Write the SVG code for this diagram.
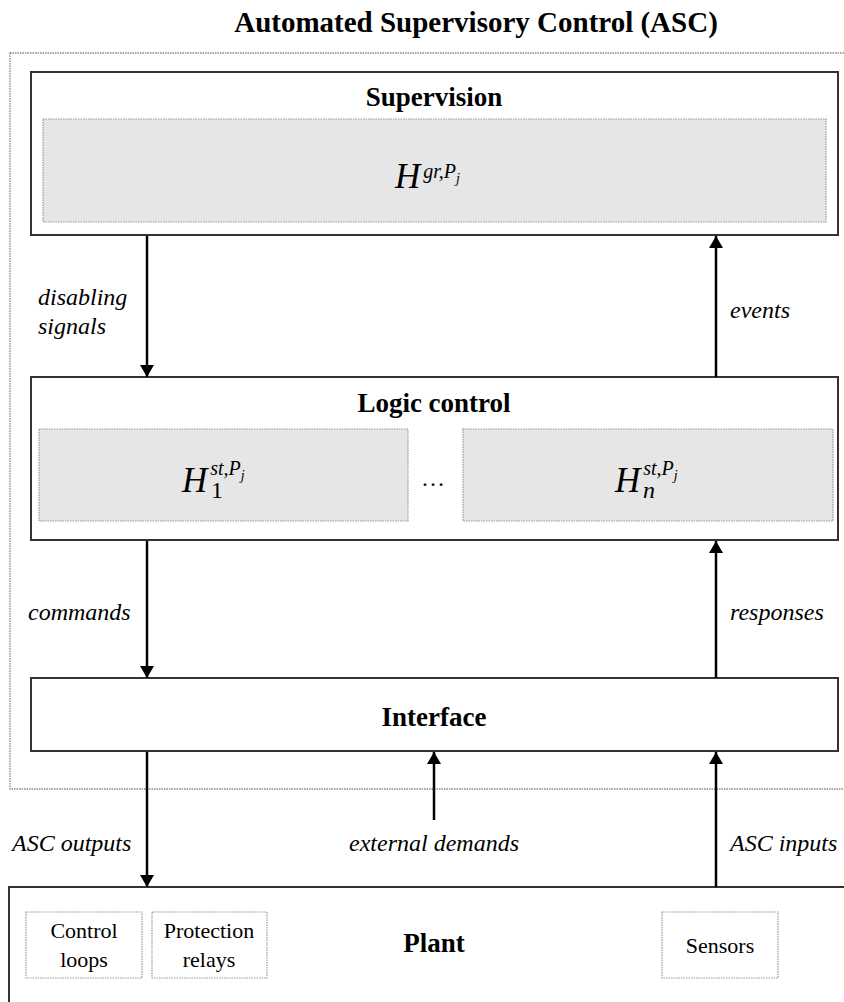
<svg xmlns="http://www.w3.org/2000/svg" width="844" height="1002" viewBox="0 0 844 1002" font-family="Times New Roman, Liberation Serif, serif">
<defs>
<marker id="ah" viewBox="0 0 12 16" refX="12" refY="8" markerWidth="12" markerHeight="16" markerUnits="userSpaceOnUse" orient="auto">
<path d="M0,1 L12,8 L0,15 Z" fill="#000"/>
</marker>
</defs>
<rect width="844" height="1002" fill="#fff"/>
<text x="476" y="32" font-family="Times New Roman, Liberation Serif, serif" font-weight="bold" font-size="29" text-anchor="middle">Automated Supervisory Control (ASC)</text>
<rect id="asc" fill="none" stroke="#888" stroke-width="1.3" stroke-dasharray="1.5 1" x="10" y="53" width="836" height="736"/>
<g id="supervision">
<rect fill="#fff" stroke="#333" stroke-width="2" x="31" y="72" width="807" height="163"/>
<text x="434" y="106" font-family="Times New Roman, Liberation Serif, serif" font-weight="bold" font-size="27" text-anchor="middle">Supervision</text>
<rect fill="#e6e6e6" stroke="#999" stroke-width="1.2" stroke-dasharray="1.5 1" x="43" y="119" width="783" height="103"/>
<text x="395" y="188" font-family="Times New Roman, Liberation Serif, serif" font-style="italic"><tspan font-size="35">H</tspan><tspan font-size="20" dx="3" dy="-10">gr,P</tspan><tspan font-size="14" dy="5">j</tspan></text>
</g>
<g id="logic">
<rect fill="#fff" stroke="#333" stroke-width="2" x="31" y="377" width="807" height="163"/>
<text x="434" y="412" font-family="Times New Roman, Liberation Serif, serif" font-weight="bold" font-size="27" text-anchor="middle">Logic control</text>
<rect fill="#e6e6e6" stroke="#999" stroke-width="1.2" stroke-dasharray="1.5 1" x="39" y="429" width="369" height="92"/>
<text x="182" y="492" font-family="Times New Roman, Liberation Serif, serif" font-style="italic"><tspan font-size="35">H</tspan><tspan font-size="20" dx="3" dy="-17">st,P</tspan><tspan font-size="14" dy="5">j</tspan></text>
<text x="211" y="498" font-family="Times New Roman, Liberation Serif, serif" font-size="24">1</text>
<text x="433" y="486" font-family="Times New Roman, Liberation Serif, serif" font-size="24" text-anchor="middle">…</text>
<rect fill="#e6e6e6" stroke="#999" stroke-width="1.2" stroke-dasharray="1.5 1" x="463" y="429" width="370" height="92"/>
<text x="615" y="492" font-family="Times New Roman, Liberation Serif, serif" font-style="italic"><tspan font-size="35">H</tspan><tspan font-size="20" dx="3" dy="-17">st,P</tspan><tspan font-size="14" dy="5">j</tspan></text>
<text x="643" y="498" font-family="Times New Roman, Liberation Serif, serif" font-style="italic" font-size="24">n</text>
</g>
<g id="interface">
<rect fill="#fff" stroke="#333" stroke-width="2" x="31" y="678" width="807" height="73"/>
<text x="434" y="726" font-family="Times New Roman, Liberation Serif, serif" font-weight="bold" font-size="27" text-anchor="middle">Interface</text>
</g>
<g id="plant">
<rect fill="#fff" stroke="#333" stroke-width="2" x="9" y="887" width="850" height="130"/>
<text x="434" y="952" font-family="Times New Roman, Liberation Serif, serif" font-weight="bold" font-size="27" text-anchor="middle">Plant</text>
<g fill="#fff" stroke="#999" stroke-width="1.2" stroke-dasharray="1.5 1">
<rect x="26" y="912" width="116" height="66"/>
<rect x="152" y="912" width="115" height="66"/>
<rect x="662" y="912" width="116" height="66"/>
</g>
<g font-size="22" text-anchor="middle">
<text x="84" y="938" font-family="Times New Roman, Liberation Serif, serif">Control</text>
<text x="84" y="967" font-family="Times New Roman, Liberation Serif, serif">loops</text>
<text x="209" y="938" font-family="Times New Roman, Liberation Serif, serif">Protection</text>
<text x="209" y="967" font-family="Times New Roman, Liberation Serif, serif">relays</text>
<text x="720" y="953" font-family="Times New Roman, Liberation Serif, serif">Sensors</text>
</g>
</g>
<g id="connectors" stroke="#000" stroke-width="2.5">
<line x1="147" y1="236" x2="147" y2="377" marker-end="url(#ah)"/>
<line x1="716" y1="377" x2="716" y2="236" marker-end="url(#ah)"/>
<line x1="147" y1="541" x2="147" y2="678" marker-end="url(#ah)"/>
<line x1="716" y1="678" x2="716" y2="541" marker-end="url(#ah)"/>
<line x1="147" y1="752" x2="147" y2="887" marker-end="url(#ah)"/>
<line x1="434" y1="820" x2="434" y2="752" marker-end="url(#ah)"/>
<line x1="716" y1="887" x2="716" y2="752" marker-end="url(#ah)"/>
</g>
<g id="labels" font-style="italic" font-size="24">
<text x="38" y="305" font-family="Times New Roman, Liberation Serif, serif">disabling</text>
<text x="38" y="334" font-family="Times New Roman, Liberation Serif, serif">signals</text>
<text x="730" y="318" font-family="Times New Roman, Liberation Serif, serif">events</text>
<text x="28" y="620" font-family="Times New Roman, Liberation Serif, serif">commands</text>
<text x="730" y="620" font-family="Times New Roman, Liberation Serif, serif">responses</text>
<text x="12" y="851" font-family="Times New Roman, Liberation Serif, serif">ASC outputs</text>
<text x="434" y="851" font-family="Times New Roman, Liberation Serif, serif" text-anchor="middle">external demands</text>
<text x="730" y="851" font-family="Times New Roman, Liberation Serif, serif">ASC inputs</text>
</g>
</svg>
